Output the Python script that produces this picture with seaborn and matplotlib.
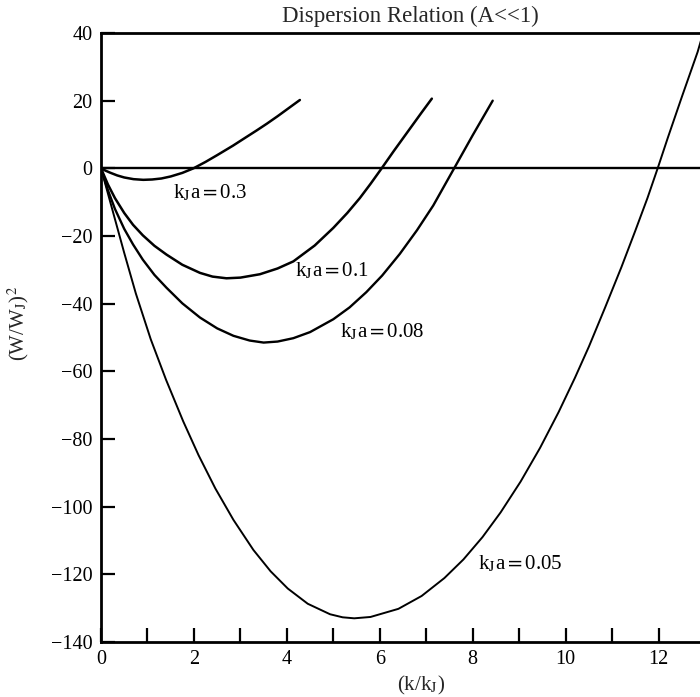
import matplotlib
matplotlib.use("Agg")
import matplotlib.pyplot as plt
import seaborn as sns
import pandas as pd

# ---- data ----
x_03 = [0, 0.1, 0.2, 0.35, 0.5, 0.7, 0.91, 1.1, 1.3, 1.5, 1.75, 1.99,
        2.25, 2.5, 2.84, 3.1, 3.35, 3.57, 3.8, 4.05, 4.28]
y_03 = [0, -0.7, -1.3, -2.1, -2.7, -3.2, -3.4, -3.3, -3.0, -2.4, -1.35, 0,
        1.9, 3.9, 6.7, 9.0, 11.2, 13.2, 15.4, 17.9, 20.2]

x_01 = [0, 0.15, 0.3, 0.5, 0.69, 0.9, 1.15, 1.41, 1.75, 2.13, 2.4, 2.7,
        3.0, 3.42, 3.8, 4.14, 4.6, 5.0, 5.3, 5.57, 5.8, 6.04, 6.3, 6.6, 6.9, 7.12]
y_01 = [0, -4.8, -8.8, -13.2, -16.7, -19.8, -22.9, -25.5, -28.5, -30.9, -32.0, -32.5,
        -32.3, -31.3, -29.6, -27.5, -22.8, -17.6, -13.2, -8.8, -4.6, 0, 5.1, 10.8, 16.5, 20.6]

x_008 = [0, 0.15, 0.3, 0.5, 0.69, 0.9, 1.15, 1.41, 1.75, 2.13, 2.5, 2.85, 3.2, 3.5,
         3.8, 4.14, 4.5, 5.0, 5.35, 5.71, 6.05, 6.43, 6.8, 7.15, 7.6, 8.0, 8.43]
y_008 = [0, -6.5, -12.0, -17.9, -22.5, -27.0, -31.5, -35.3, -39.9, -44.1, -47.3, -49.5, -50.9, -51.5,
         -51.2, -50.2, -48.4, -44.6, -41.1, -36.6, -31.7, -25.3, -18.3, -11.0, 0, 9.8, 20.0]

x_005 = [0, 0.25, 0.5, 0.75, 1.07, 1.4, 1.77, 2.1, 2.46, 2.85, 3.28, 3.65, 4.02, 4.45, 4.93, 5.2, 5.45,
         5.8, 6.4, 6.9, 7.39, 7.8, 8.21, 8.6, 9.03, 9.45, 9.85, 10.2, 10.5, 10.85,
         11.2, 11.5, 11.76, 11.98, 12.2, 12.5, 12.84, 13.1]
y_005 = [0, -12.5, -25.0, -37.0, -50.5, -62.5, -74.8, -84.8, -94.6, -103.9, -112.8, -119.1, -124.2, -128.7, -131.8, -132.7, -133,
         -132.6, -130.2, -126.4, -121.1, -115.6, -109.0, -101.7, -92.6, -82.6, -72.0, -61.9, -52.7, -41.1,
         -29.2, -18.4, -8.8, 0, 9.1, 21.1, 34.4, 46.6]

series_names = ["0.3", "0.1", "0.08", "0.05"]
label_texts = [r"k$_\mathrm{J}$a$=$0.3", r"k$_\mathrm{J}$a$=$0.1",
               r"k$_\mathrm{J}$a$=$0.08", r"k$_\mathrm{J}$a$=$0.05"]
label_pos = [(1.55, -7.4), (4.17, -30.3), (5.14, -48.5), (8.11, -117)]

x_tick_labels = [0, 2, 4, 6, 8, 10, 12]
y_ticks = [-140, -120, -100, -80, -60, -40, -20, 0, 20, 40]

# ---- style ----
sns.set_theme(style="ticks")
plt.rcParams['font.family'] = ['Liberation Serif', 'DejaVu Serif']
plt.rcParams['mathtext.fontset'] = 'stix'
plt.rcParams['axes.unicode_minus'] = True

fig = plt.figure(figsize=(7.0, 6.97), dpi=100)
ax = fig.add_axes([101/700, 55/697, 618/700, 609/697])

frames = []
for name, xs, ys in zip(series_names, [x_03, x_01, x_008, x_005], [y_03, y_01, y_008, y_005]):
    frames.append(pd.DataFrame({"k": xs, "w2": ys, "kJa": name}))
df = pd.concat(frames, ignore_index=True)

widths = {"0.3": 1.8, "0.1": 1.8, "0.08": 1.7, "0.05": 1.4}
for name in series_names:
    sub = df[df["kJa"] == name]
    sns.lineplot(data=sub, x="k", y="w2", ax=ax, color="black",
                 linewidth=widths[name], legend=False, estimator=None)

ax.axhline(0, color="black", linewidth=1.7)

for txt, (lx, ly) in zip(label_texts, label_pos):
    ax.text(lx, ly, txt, ha="left", va="center", fontsize=15, color="black")

ax.set_xlim(0, 13.3)
ax.set_ylim(-140, 40)
ax.set_xticks(x_tick_labels)
ax.set_xticks([1, 3, 5, 7, 9, 11, 13], minor=True)
ax.set_yticks(y_ticks)
ax.tick_params(axis="both", which="both", direction="in", length=10, width=1.6,
               labelsize=14.5, pad=6, colors="black")
ax.set_xlabel("")
ax.set_ylabel("")

for s in ax.spines.values():
    s.set_linewidth(2.0)
    s.set_color("black")

fig.text(421/700, 1 - 685/697, r"(k/k$_\mathrm{J}$)", fontsize=15, ha="center", va="center")
fig.text(18/700, 1 - 323/697, r"(W/W$_\mathrm{J}$)$^2$", fontsize=15, ha="center", va="center",
         rotation=90)
fig.text(410/700, 1 - 16/697, "Dispersion Relation (A<<1)", fontsize=16.5, ha="center", va="center")

fig.savefig("out.png", dpi=100)
